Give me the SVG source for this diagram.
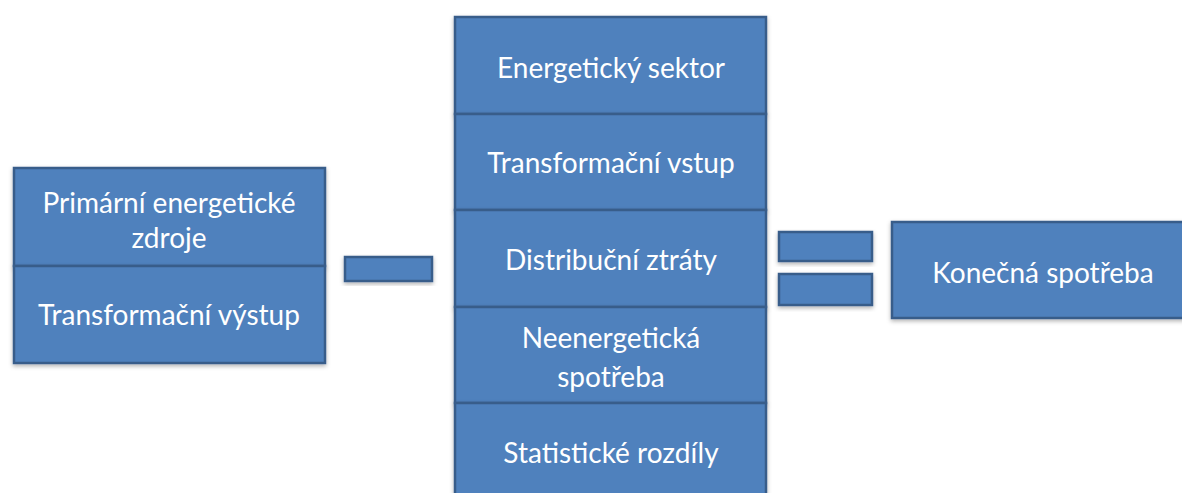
<svg xmlns="http://www.w3.org/2000/svg" width="1182" height="493" viewBox="0 0 1182 493">
<defs>
<filter id="sh" x="-10%" y="-10%" width="120%" height="130%">
<feDropShadow dx="0" dy="2" stdDeviation="2" flood-color="#000" flood-opacity="0.3"/>
</filter>
<style>
.b{fill:#4F81BD;stroke:#385D8A;stroke-width:2.5;filter:url(#sh)}
.t{fill:#fff;font-family:Lato,"Open Sans","Liberation Sans",sans-serif;font-size:28px;text-anchor:middle}
</style>
</defs>
<rect width="1182" height="493" fill="#fff"/>
<g id="primarni">
<rect class="b" x="14" y="168" width="311" height="98"/>
<text class="t" x="169" y="213">Primární energetické</text>
<text class="t" x="169" y="248">zdroje</text>
</g>
<g id="transformacni-vystup">
<rect class="b" x="14" y="266" width="311" height="97"/>
<text class="t" x="169" y="325">Transformační výstup</text>
</g>
<g id="energeticky-sektor">
<rect class="b" x="455" y="17" width="311" height="97"/>
<text class="t" x="611" y="78">Energetický sektor</text>
</g>
<g id="transformacni-vstup">
<rect class="b" x="455" y="114" width="311" height="96"/>
<text class="t" x="611" y="173">Transformační vstup</text>
</g>
<g id="distribucni-ztraty">
<rect class="b" x="455" y="210" width="311" height="97"/>
<text class="t" x="611" y="270">Distribuční ztráty</text>
</g>
<g id="neenergeticka-spotreba">
<rect class="b" x="455" y="307" width="311" height="96"/>
<text class="t" x="611" y="348">Neenergetická</text>
<text class="t" x="611" y="387">spotřeba</text>
</g>
<g id="statisticke-rozdily">
<rect class="b" x="455" y="403" width="311" height="97"/>
<text class="t" x="611" y="463">Statistické rozdíly</text>
</g>
<g id="connectors">
<rect id="minus" class="b" x="345" y="257" width="87" height="24"/>
<rect id="equals-top" class="b" x="779" y="232" width="93" height="29"/>
<rect id="equals-bottom" class="b" x="779" y="274" width="93" height="31"/>
</g>
<g id="konecna-spotreba">
<rect class="b" x="892" y="222" width="292" height="96"/>
<text class="t" x="1043" y="283">Konečná spotřeba</text>
</g>
</svg>
